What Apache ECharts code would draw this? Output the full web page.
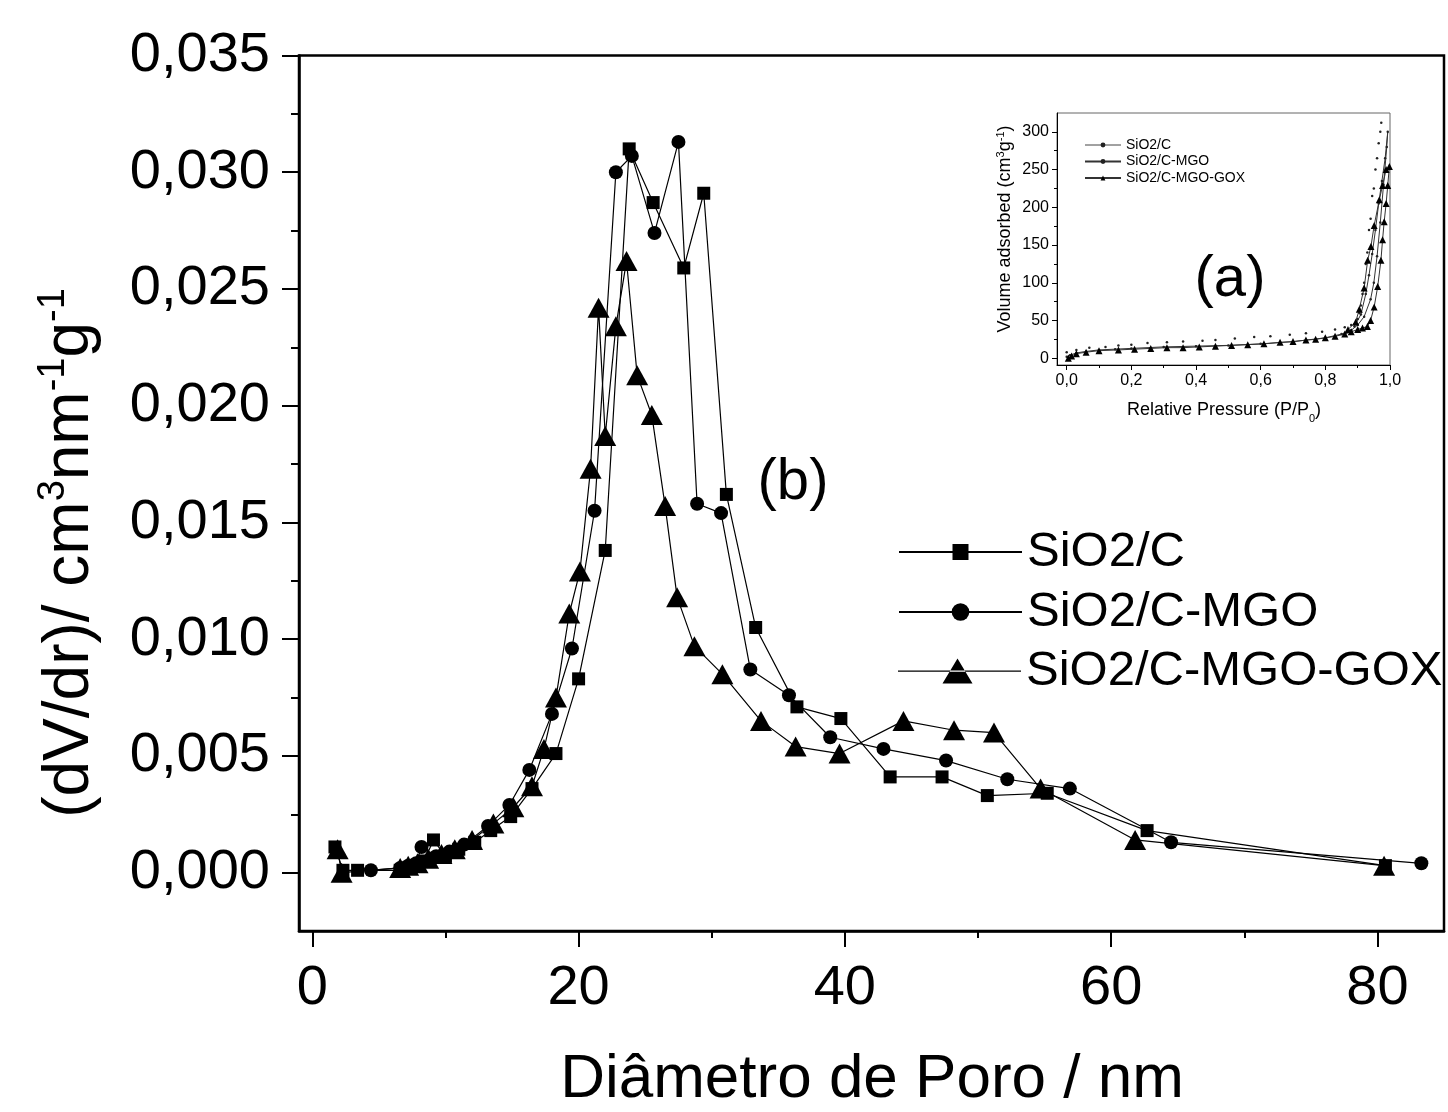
<!DOCTYPE html>
<html><head><meta charset="utf-8">
<script src="https://cdn.jsdelivr.net/npm/echarts@6/dist/echarts.min.js"></script>
<style>html,body{margin:0;padding:0;background:#fff}#c{width:1448px;height:1112px}</style>
</head><body><div id="c"></div>
<script>
const FONT = '"Liberation Sans", Arial, Helvetica, sans-serif';

// ---- main chart (b): pore size distribution ----
const sqX = [1.7, 2.3, 3.4, 6.6, 7.2, 7.8, 8.4, 9.1, 10.0, 11.0, 12.2, 13.4, 14.9, 16.5, 18.3, 20.0, 22.0, 23.8, 25.6, 27.9, 29.4, 31.1, 33.3, 36.4, 39.7, 43.4, 47.3, 50.7, 55.2, 62.7, 80.6];
const sqY = [0.0011, 0.0001, 0.0001, 0.0001, 0.0002, 0.0003, 0.0005, 0.0014, 0.0007, 0.0010, 0.0013, 0.0018, 0.0024, 0.0036, 0.0051, 0.0083, 0.0138, 0.0310, 0.0287, 0.0259, 0.0291, 0.0162, 0.0105, 0.0071, 0.0066, 0.0041, 0.0041, 0.0033, 0.0034, 0.0018, 0.0003];

const ciX = [4.4, 6.6, 7.2, 7.8, 8.2, 9.3, 10.3, 11.4, 13.2, 14.8, 16.3, 18.0, 19.5, 21.2, 22.8, 24.0, 25.7, 27.5, 28.9, 30.7, 32.9, 35.8, 38.9, 42.9, 47.6, 52.2, 56.9, 64.5, 83.3];
const ciY = [0.0001, 0.0002, 0.0003, 0.0004, 0.0011, 0.0007, 0.0009, 0.0012, 0.0020, 0.0029, 0.0044, 0.0068, 0.0096, 0.0155, 0.0300, 0.0307, 0.0274, 0.0313, 0.0158, 0.0154, 0.0087, 0.0076, 0.0058, 0.0053, 0.0048, 0.0040, 0.0036, 0.0013, 0.0004];

const trX = [1.9, 2.2, 6.6, 7.2, 7.9, 8.7, 9.7, 10.7, 12.0, 13.6, 15.1, 16.5, 17.4, 18.3, 19.3, 20.1, 20.9, 21.5, 22.0, 22.8, 23.6, 24.4, 25.5, 26.5, 27.4, 28.7, 30.8, 33.7, 36.3, 39.6, 44.4, 48.2, 51.2, 54.7, 61.8, 80.5];
const trY = [0.0010, 0.0000, 0.0002, 0.0003, 0.0004, 0.0006, 0.0008, 0.0010, 0.0014, 0.0021, 0.0028, 0.0037, 0.0053, 0.0075, 0.0111, 0.0129, 0.0173, 0.0242, 0.0187, 0.0234, 0.0262, 0.0213, 0.0196, 0.0157, 0.0118, 0.0097, 0.0085, 0.0065, 0.0054, 0.0051, 0.0065, 0.0061, 0.0060, 0.0036, 0.0014, 0.0003];

const xTicks = [0, 20, 40, 60, 80];
const xMinorTicks = [10, 30, 50, 70];
const yTicks = [0, 0.005, 0.010, 0.015, 0.020, 0.025, 0.030, 0.035];
const yMinorTicks = [0.0025, 0.0075, 0.0125, 0.0175, 0.0225, 0.0275, 0.0325];

// ---- inset (a): N2 isotherms ----
const isoCX = [0.0, 0.03, 0.07, 0.12, 0.16, 0.2, 0.25, 0.31, 0.36, 0.42, 0.46, 0.52, 0.58, 0.63, 0.69, 0.74, 0.79, 0.83, 0.86, 0.88, 0.9, 0.91, 0.92, 0.93, 0.94, 0.95, 0.96, 0.97, 0.973, 0.965, 0.955, 0.945, 0.935, 0.925, 0.915, 0.905, 0.89];
const isoCY = [8, 11, 14, 15, 17, 18, 20, 21, 22, 23, 24, 26, 28, 29, 31, 33, 35, 38, 41, 44, 52, 70, 100, 140, 185, 225, 265, 300, 312, 285, 250, 215, 170, 125, 85, 60, 45];

const isoMX = [0.0, 0.01, 0.03, 0.06, 0.1, 0.15, 0.2, 0.3, 0.4, 0.5, 0.6, 0.7, 0.8, 0.85, 0.88, 0.9, 0.92, 0.94, 0.95, 0.96, 0.97, 0.98, 0.99, 0.993, 0.985, 0.975, 0.965, 0.955, 0.945, 0.935, 0.925, 0.91, 0.89];
const isoMY = [2, 4, 7, 9, 11, 12, 13, 15, 16, 17, 19, 22, 27, 32, 37, 44, 55, 78, 100, 135, 180, 230, 280, 300, 265, 235, 205, 170, 138, 110, 85, 58, 42];

const isoGX = [0.005, 0.015, 0.03, 0.06, 0.1, 0.16, 0.21, 0.26, 0.31, 0.36, 0.41, 0.46, 0.51, 0.56, 0.61, 0.66, 0.7, 0.74, 0.77, 0.8, 0.83, 0.86, 0.88, 0.9, 0.915, 0.93, 0.94, 0.951, 0.962, 0.972, 0.977, 0.982, 0.988, 0.993, 0.998, 0.988, 0.977, 0.967, 0.951, 0.941, 0.931, 0.92, 0.905, 0.894, 0.87];
const isoGY = [0, 3, 6, 8, 10, 11, 12, 13, 14, 14, 15, 16, 17, 18, 19, 21, 22, 24, 25, 27, 29, 32, 35, 38, 40, 42, 50, 68, 95, 130, 157, 181, 205, 229, 254, 250, 229, 210, 176, 148, 130, 93, 65, 48, 38];

const insetXTicks = [0, 0.2, 0.4, 0.6, 0.8, 1.0];
const insetXMinorTicks = [0.1, 0.3, 0.5, 0.7, 0.9];
const insetYTicks = [0, 50, 100, 150, 200, 250, 300];
const insetYMinorTicks = [25, 75, 125, 175, 225, 275];

const names = ['SiO2/C', 'SiO2/C-MGO', 'SiO2/C-MGO-GOX'];
const insetNames = names.map(n => n + ' ');

function pairs(xs, ys) { return xs.map((x, i) => [x, ys[i]]); }
const comma = (v, d) => v.toFixed(d).replace('.', ',');

const chart = echarts.init(document.getElementById('c'), null, {renderer: 'canvas'});

function valAxis(extra) {
  const base = {type: 'value', splitLine: {show: false}, axisLabel: {show: false}, axisTick: {show: false}};
  const ax = Object.assign(base, extra);
  ax.axisLine = Object.assign({show: false}, extra.axisLine || {}, {onZero: false});
  return ax;
}

chart.setOption({
  animation: false,
  backgroundColor: '#fff',
  grid: [
    {left: 299, top: 55.5, width: 1145, height: 875.5, show: true, borderColor: '#000', borderWidth: 2.5, containLabel: false},
    {left: 1057, top: 113, width: 333, height: 252, show: true, borderColor: '#666', borderWidth: 1, containLabel: false}
  ],
  xAxis: [
    valAxis({gridIndex: 0, min: -1, max: 85, position: 'bottom',
      axisLine: {show: true, lineStyle: {color: '#000', width: 2.5}},
      axisTick: {show: true, customValues: xTicks, length: 16, lineStyle: {color: '#000', width: 2}},
      axisLabel: {show: true, customValues: xTicks, color: '#000', fontSize: 56, fontFamily: FONT, margin: 30}}),
    valAxis({gridIndex: 0, min: -1, max: 85, position: 'bottom',
      axisTick: {show: true, customValues: xMinorTicks, length: 7, lineStyle: {color: '#000', width: 2}}}),
    valAxis({gridIndex: 1, min: -0.03, max: 1.0, position: 'bottom',
      axisLine: {show: true, lineStyle: {color: '#000', width: 1}},
      axisTick: {show: true, customValues: insetXTicks, length: 5, lineStyle: {color: '#000', width: 1}},
      axisLabel: {show: true, customValues: insetXTicks, color: '#000', fontSize: 16, fontFamily: FONT, margin: 8, formatter: v => comma(v, 1)}}),
    valAxis({gridIndex: 1, min: -0.03, max: 1.0, position: 'bottom',
      axisTick: {show: true, customValues: insetXMinorTicks, length: 3, lineStyle: {color: '#000', width: 1}}})
  ],
  yAxis: [
    valAxis({gridIndex: 0, min: -0.0025, max: 0.035, position: 'left',
      axisLine: {show: true, lineStyle: {color: '#000', width: 2.5}},
      axisTick: {show: true, customValues: yTicks, length: 17, lineStyle: {color: '#000', width: 2}},
      axisLabel: {show: true, customValues: yTicks, color: '#000', fontSize: 56, fontFamily: FONT, margin: 29, formatter: v => comma(v, 3)}}),
    valAxis({gridIndex: 0, min: -0.0025, max: 0.035, position: 'left',
      axisTick: {show: true, customValues: yMinorTicks, length: 8, lineStyle: {color: '#000', width: 2}}}),
    valAxis({gridIndex: 1, min: -9, max: 325, position: 'left',
      axisLine: {show: true, lineStyle: {color: '#000', width: 1}},
      axisTick: {show: true, customValues: insetYTicks, length: 5, lineStyle: {color: '#000', width: 1}},
      axisLabel: {show: true, customValues: insetYTicks, color: '#000', fontSize: 16, fontFamily: FONT, margin: 8}}),
    valAxis({gridIndex: 1, min: -9, max: 325, position: 'left',
      axisTick: {show: true, customValues: insetYMinorTicks, length: 3, lineStyle: {color: '#000', width: 1}}})
  ],
  legend: [
    {data: [names[0]], orient: 'vertical', left: 893, top: 522, itemWidth: 123, itemHeight: 20, itemGap: 0, itemTextGap: 16, selectedMode: false,
      textStyle: {color: '#000', fontSize: 49, fontFamily: FONT, lineHeight: 50}},
    {data: [names[1]], orient: 'vertical', left: 893, top: 582, itemWidth: 123, itemHeight: 22, itemGap: 0, itemTextGap: 16, selectedMode: false,
      textStyle: {color: '#000', fontSize: 49, fontFamily: FONT, lineHeight: 50}},
    {data: [{name: names[2], icon: 'path://M0,12L123,12L123,13.3L0,13.3Z M44.5,25L74.5,25L59.5,0Z'}], orient: 'vertical', left: 893, top: 641, itemWidth: 123, itemHeight: 25, itemGap: 0, itemTextGap: 16, selectedMode: false,
      textStyle: {color: '#000', fontSize: 49, fontFamily: FONT, lineHeight: 50}},
    {data: [{name: insetNames[0], lineStyle: {opacity: 1, width: 1, color: '#444'}}, insetNames[1], insetNames[2]], orient: 'vertical', left: 1079, top: 133, itemWidth: 36, itemHeight: 6, itemGap: 2.5, itemTextGap: 2, selectedMode: false,
      textStyle: {color: '#000', fontSize: 14, fontFamily: FONT, lineHeight: 14}}
  ],
  series: [
    {name: names[0], type: 'line', xAxisIndex: 0, yAxisIndex: 0, data: pairs(sqX, sqY), symbol: 'rect', symbolSize: 13, showAllSymbol: true,
      itemStyle: {color: '#000'}, lineStyle: {color: '#000', width: 1.2}, z: 3},
    {name: names[1], type: 'line', xAxisIndex: 0, yAxisIndex: 0, data: pairs(ciX, ciY), symbol: 'circle', symbolSize: 14, showAllSymbol: true,
      itemStyle: {color: '#000'}, lineStyle: {color: '#000', width: 1.2}, z: 3},
    {name: names[2], type: 'line', xAxisIndex: 0, yAxisIndex: 0, data: pairs(trX, trY), symbol: 'triangle', symbolSize: [22, 20], showAllSymbol: true,
      itemStyle: {color: '#000'}, lineStyle: {color: '#000', width: 1.2}, z: 3},
    {name: insetNames[0], type: 'line', xAxisIndex: 2, yAxisIndex: 2, data: pairs(isoCX, isoCY), symbol: 'circle', symbolSize: 2.5, showAllSymbol: true,
      itemStyle: {color: '#222'}, lineStyle: {opacity: 0, width: 1, color: '#444'}, z: 3},
    {name: insetNames[1], type: 'line', xAxisIndex: 2, yAxisIndex: 2, data: pairs(isoMX, isoMY), symbol: 'circle', symbolSize: 2.5, showAllSymbol: true,
      itemStyle: {color: '#222'}, lineStyle: {color: '#333', width: 1}, z: 3},
    {name: insetNames[2], type: 'line', xAxisIndex: 2, yAxisIndex: 2, data: pairs(isoGX, isoGY), symbol: 'triangle', symbolSize: 7, showAllSymbol: true,
      itemStyle: {color: '#000'}, lineStyle: {color: '#333', width: 1}, z: 3}
  ],
  graphic: [
    {type: 'text', x: 70, y: 553, rotation: Math.PI / 2, style: {
      x: 0, y: 0, align: 'center', verticalAlign: 'middle', textAlign: 'center', textVerticalAlign: 'middle', fill: '#000',
      text: '{n|(dV/dr)/ cm}{s|3}{n|nm}{s|-1}{n|g}{s|-1}',
      rich: {n: {fontSize: 64, fontFamily: FONT, fill: '#000', lineHeight: 70, verticalAlign: 'middle'},
             s: {fontSize: 38, fontFamily: FONT, fill: '#000', lineHeight: 44, verticalAlign: 'top'}}}},
    {type: 'text', x: 872, y: 1080, style: {x: 0, y: 0, text: 'Diâmetro de Poro / nm', font: '62px ' + FONT, fill: '#000',
      align: 'center', verticalAlign: 'middle', textAlign: 'center', textVerticalAlign: 'middle'}},
    {type: 'text', x: 793, y: 483, style: {x: 0, y: 0, text: '(b)', font: '58px ' + FONT, fill: '#000',
      align: 'center', verticalAlign: 'middle', textAlign: 'center', textVerticalAlign: 'middle'}},
    {type: 'text', x: 1230, y: 280, style: {x: 0, y: 0, text: '(a)', font: '58px ' + FONT, fill: '#000',
      align: 'center', verticalAlign: 'middle', textAlign: 'center', textVerticalAlign: 'middle'}},
    {type: 'text', x: 1005, y: 229, rotation: Math.PI / 2, style: {
      x: 0, y: 0, align: 'center', verticalAlign: 'middle', textAlign: 'center', textVerticalAlign: 'middle', fill: '#000',
      text: '{n|Volume adsorbed (cm}{s|3}{n|g}{s|-1}{n|)}',
      rich: {n: {fontSize: 18, fontFamily: FONT, fill: '#000', lineHeight: 20, verticalAlign: 'middle'},
             s: {fontSize: 11, fontFamily: FONT, fill: '#000', lineHeight: 12, verticalAlign: 'top'}}}},
    {type: 'text', x: 1224, y: 410, style: {
      x: 0, y: 0, align: 'center', verticalAlign: 'middle', textAlign: 'center', textVerticalAlign: 'middle', fill: '#000',
      text: '{n|Relative Pressure (P/P}{b|0}{n|)}',
      rich: {n: {fontSize: 18, fontFamily: FONT, fill: '#000', lineHeight: 20, verticalAlign: 'middle'},
             b: {fontSize: 11, fontFamily: FONT, fill: '#000', lineHeight: 12, verticalAlign: 'bottom', padding: [0, 0, -4, 0]}}}}
  ]
});
</script>
</body></html>
